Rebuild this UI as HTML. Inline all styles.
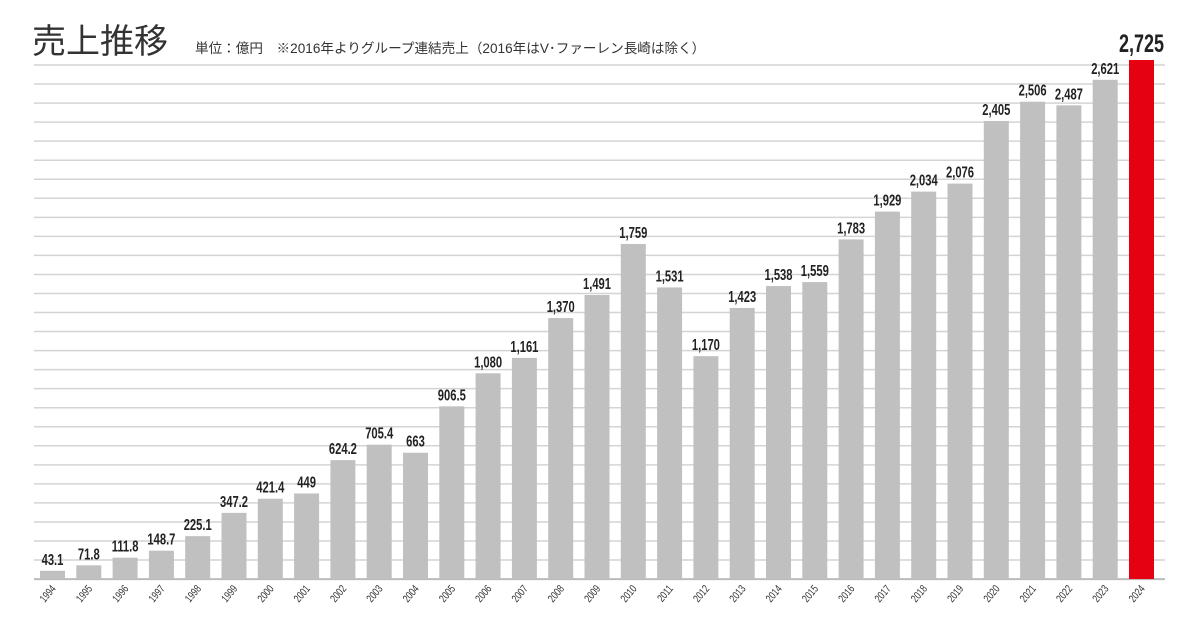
<!DOCTYPE html>
<html><head><meta charset="utf-8"><style>
body{margin:0;background:#fff;}
svg text{font-family:"Liberation Sans","Noto Sans CJK JP",sans-serif;}
</style></head><body>
<svg width="1200" height="630" xmlns="http://www.w3.org/2000/svg">
<text x="32" y="53" font-size="34" fill="#333" font-family="Noto Sans CJK JP,sans-serif">売上推移</text>
<text x="195" y="53" font-size="13.6" fill="#333">単位：億円　※2016年よりグループ連結売上（2016年はV･ファーレン長崎は除く）</text>
<g id="grid" stroke="#d4d4d4" stroke-width="1.5"></g>
<g id="bars"></g>
</svg>
<script>
const vals=[43.1,71.8,111.8,148.7,225.1,347.2,421.4,449,624.2,705.4,663,906.5,1080,1161,1370,1491,1759,1531,1170,1423,1538,1559,1783,1929,2034,2076,2405,2506,2487,2621,2725];
const labs=["43.1","71.8","111.8","148.7","225.1","347.2","421.4","449","624.2","705.4","663","906.5","1,080","1,161","1,370","1,491","1,759","1,531","1,170","1,423","1,538","1,559","1,783","1,929","2,034","2,076","2,405","2,506","2,487","2,621","2,725"];
const ns="http://www.w3.org/2000/svg";
const g=document.getElementById('grid'),b=document.getElementById('bars');
for(let k=0;k<=27;k++){const y=65+k*19.04;const l=document.createElementNS(ns,'line');l.setAttribute('x1',34);l.setAttribute('x2',1165);l.setAttribute('y1',y);l.setAttribute('y2',y);if(k==27){l.setAttribute('stroke','#bbb');l.setAttribute('stroke-width','2');}g.appendChild(l);}
const base=579,sc=(579-60)/2725;
vals.forEach((v,i)=>{
 const x=40+i*36.3,h=v*sc,last=i==30;
 const r=document.createElementNS(ns,'rect');r.setAttribute('x',x);r.setAttribute('y',base-h);r.setAttribute('width',25);r.setAttribute('height',h);r.setAttribute('fill',last?'#e50012':'#c0c0c0');b.appendChild(r);
 const t=document.createElementNS(ns,'text');const cx=x+12.5;
 t.setAttribute('transform',`translate(${cx},${base-h-(last?8:6)}) scale(${last?0.72:0.7},1)`);
 t.setAttribute('text-anchor','middle');t.setAttribute('font-size',last?25:16);t.setAttribute('font-weight','bold');t.setAttribute('fill','#222');t.textContent=labs[i];b.appendChild(t);
 const y=document.createElementNS(ns,'text');y.setAttribute('transform',`translate(${cx+4},${base+10}) rotate(-50) scale(0.75,1)`);y.setAttribute('text-anchor','end');y.setAttribute('font-size',11);y.setAttribute('fill','#333');y.textContent=1994+i;b.appendChild(y);
});
</script>
</body></html>
